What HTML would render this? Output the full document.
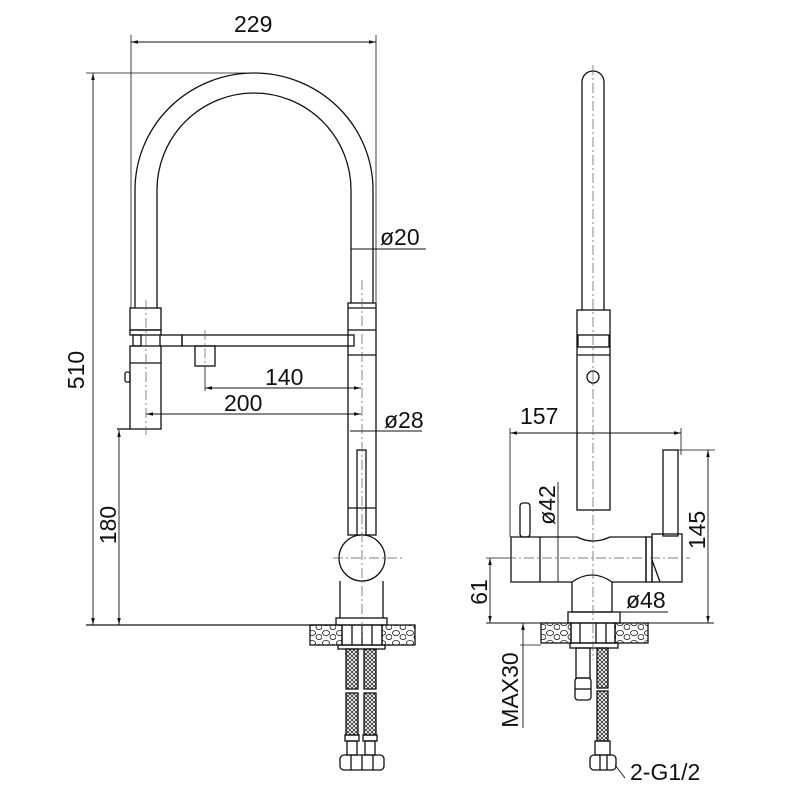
<!DOCTYPE html>
<html><head><meta charset="utf-8"><style>
html,body{margin:0;padding:0;background:#fff}
svg{display:block}
text{font-family:"Liberation Sans",sans-serif;font-size:23px;fill:#111}
</style></head><body>
<svg width="800" height="800" viewBox="0 0 800 800" xmlns="http://www.w3.org/2000/svg">
<defs>
<marker id="a" markerWidth="8" markerHeight="6" refX="8" refY="3" orient="auto-start-reverse"><path d="M0,1 L8,3 L0,5" fill="#111"/></marker>
<pattern id="stone" width="14" height="10" patternUnits="userSpaceOnUse"><ellipse cx="4" cy="3" rx="3.5" ry="2.5" fill="none" stroke="#111" stroke-width="0.8"/><ellipse cx="11" cy="7" rx="3" ry="2.5" fill="none" stroke="#111" stroke-width="0.8"/></pattern>
<pattern id="braid" width="4" height="4" patternUnits="userSpaceOnUse"><path d="M0,0 L4,4 M4,0 L0,4" stroke="#111" stroke-width="0.7"/></pattern>
</defs>
<g fill="none" stroke="#111" stroke-width="1.3">
<line x1="131" y1="35" x2="131" y2="308" stroke-width="0.8"/>
<line x1="376" y1="35" x2="376" y2="302" stroke-width="0.8"/>
<line x1="131" y1="42" x2="376" y2="42" stroke-width="0.9" marker-start="url(#a)" marker-end="url(#a)"/>
<line x1="86" y1="73" x2="245" y2="73" stroke-width="0.8"/>
<line x1="93" y1="73" x2="93" y2="625" stroke-width="0.9" marker-start="url(#a)" marker-end="url(#a)"/>
<path d="M135,308 L135,190 A119,117 0 0 1 373,190 L373,303"/>
<path d="M157,308 L157,190 A97,97 0 0 1 351,190 L351,303"/>
<rect x="348" y="303" width="28" height="232"/>
<line x1="348" y1="308" x2="376" y2="308"/>
<line x1="348" y1="330" x2="376" y2="330"/>
<line x1="348" y1="355" x2="376" y2="355"/>
<line x1="348" y1="508" x2="376" y2="508"/>
<rect x="182" y="335" width="172" height="11"/>
<rect x="160" y="335" width="22" height="11"/>
<rect x="130" y="308" width="31" height="22"/>
<rect x="130" y="330" width="31" height="5"/>
<rect x="133" y="335" width="8" height="11"/>
<rect x="130" y="346" width="31" height="83"/>
<line x1="130" y1="363" x2="161" y2="363"/>
<line x1="117" y1="429" x2="130" y2="429"/>
<rect x="125" y="372" width="5" height="10" rx="2"/>
<rect x="195" y="346" width="20" height="20"/>
<line x1="205" y1="366" x2="205" y2="391" stroke-width="0.8"/>
<line x1="205" y1="388" x2="361" y2="388" stroke-width="0.9" marker-start="url(#a)" marker-end="url(#a)"/>
<line x1="146" y1="414" x2="361" y2="414" stroke-width="0.9" marker-start="url(#a)" marker-end="url(#a)"/>
<line x1="350" y1="431" x2="422" y2="431" stroke-width="0.9"/>
<line x1="351" y1="249" x2="426" y2="249" stroke-width="0.9"/>
<rect x="357" y="450" width="9" height="90"/>
<circle cx="362" cy="558" r="23" fill="#fff"/>
<line x1="340" y1="581" x2="340" y2="618"/>
<line x1="383" y1="581" x2="383" y2="618"/>
<rect x="336" y="618" width="51" height="7"/>
<line x1="86" y1="625" x2="336" y2="625"/>
<line x1="119" y1="430" x2="119" y2="625" stroke-width="0.9" marker-start="url(#a)" marker-end="url(#a)"/>
<rect x="310" y="625" width="32" height="20" fill="url(#stone)"/>
<rect x="382" y="625" width="33" height="20" fill="url(#stone)"/>
<rect x="342" y="625" width="40" height="20"/>
<line x1="352" y1="625" x2="352" y2="645"/><line x1="362" y1="625" x2="362" y2="645"/><line x1="372" y1="625" x2="372" y2="645"/>
<rect x="338" y="645" width="47" height="4"/>
<rect x="346" y="649" width="12" height="40" fill="url(#braid)"/>
<rect x="364" y="649" width="12" height="40" fill="url(#braid)"/>
<rect x="346" y="693" width="12" height="42" fill="url(#braid)"/>
<rect x="364" y="693" width="12" height="42" fill="url(#braid)"/>
<rect x="345" y="735" width="14" height="6"/><rect x="363" y="735" width="14" height="6"/>
<rect x="347" y="741" width="10" height="14"/><rect x="365" y="741" width="10" height="14"/>
<rect x="340" y="755" width="44" height="15" rx="4"/>
<line x1="351" y1="755" x2="351" y2="770"/><line x1="362" y1="755" x2="362" y2="770"/><line x1="373" y1="755" x2="373" y2="770"/>

<path d="M582,310 L582,82 A11,11 0 0 1 604,82 L604,310"/>
<rect x="577" y="310" width="33" height="200"/>
<rect x="578" y="335" width="31" height="12"/>
<line x1="577" y1="355" x2="610" y2="355"/>
<circle cx="593" cy="377" r="6"/>
<path d="M511,537 L577,537 Q593,545 610,537 L646,537 L646,582 L612,582 L612,612 L572,612 L572,582 L511,582 Z"/>
<line x1="540" y1="537" x2="540" y2="582"/>
<path d="M572,582 Q592,568 612,582" />
<rect x="652" y="534" width="30" height="48"/>
<rect x="646" y="537" width="6" height="45"/>
<line x1="652" y1="560" x2="660" y2="582"/>
<rect x="663" y="450" width="15" height="86"/>
<rect x="520" y="503" width="10" height="34" rx="3"/>
<rect x="568" y="612" width="52" height="11"/>
<line x1="510" y1="428" x2="510" y2="537" stroke-width="0.8"/>
<line x1="681" y1="428" x2="681" y2="455" stroke-width="0.8"/>
<line x1="510" y1="433" x2="681" y2="433" stroke-width="0.9" marker-start="url(#a)" marker-end="url(#a)"/>
<line x1="678" y1="450" x2="715" y2="450" stroke-width="0.8"/>
<line x1="708" y1="450" x2="708" y2="623" stroke-width="0.9" marker-start="url(#a)" marker-end="url(#a)"/>
<line x1="486" y1="558" x2="511" y2="558" stroke-width="0.8"/>
<line x1="490" y1="558" x2="490" y2="623" stroke-width="0.9" marker-start="url(#a)" marker-end="url(#a)"/>
<line x1="486" y1="623" x2="714" y2="623" stroke-width="1"/>
<line x1="558" y1="482" x2="558" y2="582" stroke-width="0.9"/>
<line x1="568" y1="612" x2="668" y2="612" stroke-width="0.9"/>
<rect x="541" y="623" width="30" height="20" fill="url(#stone)"/>
<rect x="615" y="623" width="33" height="20" fill="url(#stone)"/>
<rect x="571" y="623" width="44" height="20"/>
<line x1="580" y1="623" x2="580" y2="643"/><line x1="596" y1="623" x2="596" y2="643"/><line x1="606" y1="623" x2="606" y2="643"/>
<rect x="570" y="643" width="48" height="5"/>
<line x1="520" y1="645" x2="541" y2="645" stroke-width="0.8"/>
<line x1="523" y1="623" x2="523" y2="728" stroke-width="0.9" marker-start="url(#a)"/>
<rect x="576" y="648" width="14" height="30"/>
<rect x="575" y="678" width="16" height="22" rx="3"/>
<line x1="575" y1="689" x2="591" y2="689"/>
<rect x="597" y="648" width="11" height="40" fill="url(#braid)"/>
<rect x="597" y="691" width="11" height="50" fill="url(#braid)"/>
<rect x="595" y="741" width="15" height="14"/>
<rect x="590" y="755" width="26" height="15" rx="4"/>
<line x1="600" y1="755" x2="600" y2="770"/><line x1="607" y1="755" x2="607" y2="770"/>
<line x1="615" y1="765" x2="625" y2="778" stroke-width="0.9"/>
</g>
<g stroke="#555" stroke-width="0.7" stroke-dasharray="10,3,2,3" fill="none">
<line x1="362" y1="280" x2="362" y2="640"/>
<line x1="146" y1="300" x2="146" y2="435"/>
<line x1="205" y1="330" x2="205" y2="366"/>
<line x1="333" y1="558" x2="402" y2="558"/>
<line x1="593" y1="65" x2="593" y2="660"/>
<line x1="488" y1="558" x2="690" y2="558"/>
</g>
<text x="234" y="32">229</text>
<text x="380" y="245">ø20</text>
<text x="265" y="385">140</text>
<text x="224" y="411">200</text>
<text x="384" y="428">ø28</text>
<text x="520" y="424">157</text>
<text x="626" y="608">ø48</text>
<text x="630" y="780">2-G1/2</text>
<g text-anchor="middle">
<text transform="translate(76,370) rotate(-90)" y="8">510</text>
<text transform="translate(108,525) rotate(-90)" y="8">180</text>
<text transform="translate(697,530) rotate(-90)" y="8">145</text>
<text transform="translate(547,505) rotate(-90)" y="8">ø42</text>
<text transform="translate(479,592) rotate(-90)" y="8">61</text>
<text transform="translate(510,690) rotate(-90)" y="8">MAX30</text>
</g>
</svg>
</body></html>
